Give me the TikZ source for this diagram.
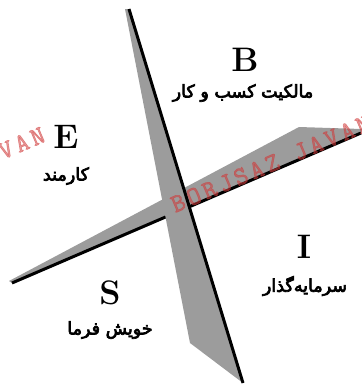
\documentclass[tikz,border=0pt]{standalone}
\usepackage{fontspec}
\usepackage{tikz}
\usetikzlibrary{positioning}
\TeXXeTstate=1
\newfontfamily\arabicfont[Script=Arabic, FakeBold=4]{DejaVu Sans}
\newfontfamily\stampfont[LetterSpace=14, FakeBold=2.5]{Latin Modern Mono}
\definecolor{blade}{HTML}{9C9C9C}
\definecolor{stamp}{HTML}{D03A3A}

\begin{document}
\begin{tikzpicture}[
  x=1pt, y=-1pt,
  letter/.style={font=\fontsize{34}{34}\selectfont\bfseries, inner sep=0pt},
  role/.style={font=\fontsize{17.5}{17.5}\selectfont\arabicfont, inner sep=0pt},
  edgeline/.style={line width=3pt},
  stampword/.style={font=\fontsize{26}{26}\selectfont\stampfont,
                    text=stamp, text opacity=0.5, inner sep=0pt, rotate=23}
]
\useasboundingbox (0,0) rectangle (362,384);
\clip (0,0) rectangle (362,384);

% ================= blades =================
\coordinate (hL) at (12,283);
\coordinate (hR) at (361,133);
\coordinate (vT) at (129,9);
\coordinate (vB) at (243,383);

% horizontal blade
\fill[blade] (9,281) -- (299,127) -- (362,129) -- (hR) -- (hL) -- cycle;
\draw[edgeline] (hL) -- (hR);

% vertical blade
\fill[blade] (125,9) -- (vT) -- (vB) -- (190,343) -- cycle;
\draw[edgeline] (vT) -- (vB);

% ================= quadrants =================
\node[letter] (B) at (245,60) {B};
\node[role]   (roleB) at (243,93) {\beginR مالکیت کسب و کار\endR};

\node[letter] (E) at (66,137) {E};
\node[role]   (roleE) at (66,176) {\beginR کارمند\endR};

\node[letter] (I) at (304,247) {I};
\node[role]   (roleI) at (305,286) {\beginR سرمایه‌گذار\endR};

\node[letter] (S) at (110,293) {S};
\node[role]   (roleS) at (110,330) {\beginR خویش فرما\endR};

% ================= watermark =================
\node[stampword, anchor=base west] (wmRight) at (175,213) {BORJSAZ JAVAN};
\node[stampword, anchor=base east] (wmLeft)  at (47,141)  {BORJSAZ JAVAN};

\end{tikzpicture}
\end{document}
